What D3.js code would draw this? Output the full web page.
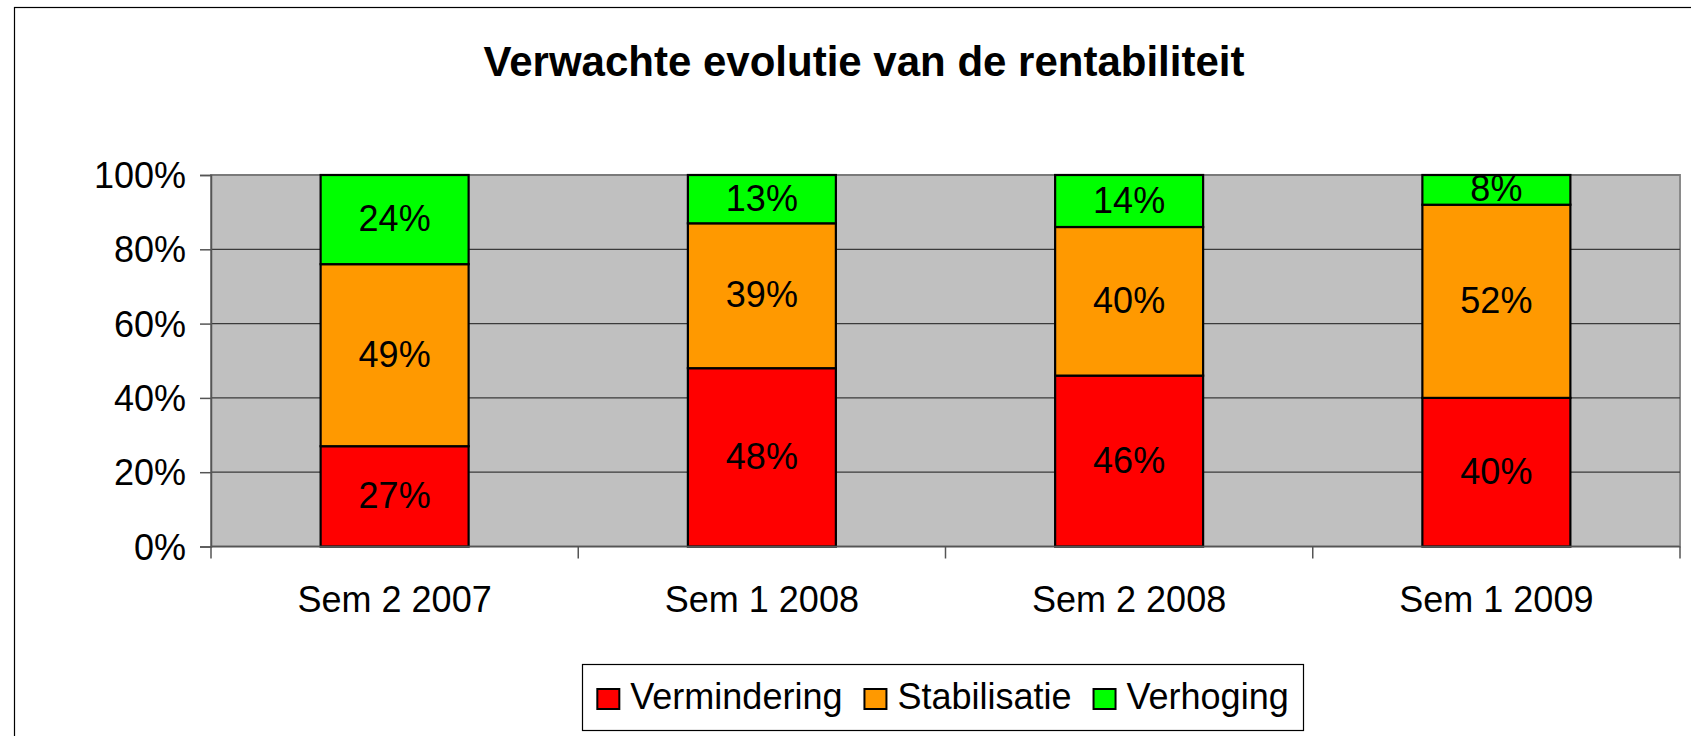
<!DOCTYPE html>
<html>
<head>
<meta charset="utf-8">
<script src="https://cdn.jsdelivr.net/npm/d3@7"></script>
<style>
  html, body { margin: 0; padding: 0; background: #ffffff; }
  svg { display: block; font-family: "Liberation Sans", Arial, sans-serif; }
</style>
</head>
<body>
<svg id="chart" width="1691" height="736"></svg>
<script>
// ---- data ----
const title = "Verwachte evolutie van de rentabiliteit";
const categories = ["Sem 2 2007", "Sem 1 2008", "Sem 2 2008", "Sem 1 2009"];
const seriesNames = ["Vermindering", "Stabilisatie", "Verhoging"];
const vermindering = [27, 48, 46, 40];
const stabilisatie = [49, 39, 40, 52];
const verhoging = [24, 13, 14, 8];
const yTicks = [0, 20, 40, 60, 80, 100];
const colors = ["#FF0000", "#FF9900", "#00FF00"];

// ---- layout ----
const W = 1691, H = 736;
const plot = { left: 211, right: 1680, top: 175, bottom: 546.5 };
const svg = d3.select("#chart");

// outer frame
svg.append("rect")
  .attr("x", 14.5).attr("y", 7.5)
  .attr("width", W + 20).attr("height", H + 20)
  .attr("fill", "#fff").attr("stroke", "#000").attr("stroke-width", 1.2);

// title
svg.append("text")
  .attr("x", 864).attr("y", 76)
  .attr("text-anchor", "middle")
  .attr("font-weight", "bold")
  .attr("font-size", 42)
  .text(title);

const x = d3.scaleBand().domain(categories).range([plot.left, plot.right]).padding(0);
const y = d3.scaleLinear().domain([0, 100]).range([plot.bottom, plot.top]);
const barW = x.bandwidth() * 0.403;

// plot background
svg.append("rect")
  .attr("x", plot.left).attr("y", plot.top)
  .attr("width", plot.right - plot.left).attr("height", plot.bottom - plot.top)
  .attr("fill", "#C0C0C0")
  .attr("stroke", "#8a8a8a").attr("stroke-width", 2);

// gridlines
svg.append("g").selectAll("line").data(yTicks.filter(d => d > 0)).join("line")
  .attr("x1", plot.left).attr("x2", plot.right)
  .attr("y1", d => y(d)).attr("y2", d => y(d))
  .attr("stroke", d => d === 100 ? "#7a7a7a" : "#3a3a3a")
  .attr("stroke-width", d => d === 100 ? 2 : 1.3);

// stacked data
const table = categories.map((c, i) => ({
  cat: c, Vermindering: vermindering[i], Stabilisatie: stabilisatie[i], Verhoging: verhoging[i]
}));
const stacked = d3.stack().keys(seriesNames)(table);

const layers = svg.append("g").selectAll("g").data(stacked).join("g")
  .attr("fill", (d, i) => colors[i]);

layers.selectAll("rect").data(d => d).join("rect")
  .attr("x", d => x(d.data.cat) + (x.bandwidth() - barW) / 2)
  .attr("y", d => y(d[1]))
  .attr("width", barW)
  .attr("height", d => y(d[0]) - y(d[1]))
  .attr("stroke", "#000").attr("stroke-width", 2.2);

layers.selectAll("text").data(d => d).join("text")
  .attr("x", d => x(d.data.cat) + x.bandwidth() / 2)
  .attr("y", d => (y(d[0]) + y(d[1])) / 2 + 11.5)
  .attr("text-anchor", "middle")
  .attr("font-size", 36)
  .attr("fill", "#000")
  .text(d => (d[1] - d[0]) + "%");

// y axis
const yAxis = svg.append("g")
  .attr("transform", `translate(${plot.left},0)`)
  .call(d3.axisLeft(y).tickValues(yTicks).tickSize(11).tickPadding(0).tickFormat(d => d + "%"));
yAxis.select(".domain").attr("stroke", "#555").attr("stroke-width", 1.5);
yAxis.selectAll(".tick line").attr("stroke", "#555").attr("stroke-width", 1.5);
yAxis.selectAll(".tick text")
  .attr("x", -25)
  .attr("dy", "0.35em")
  .attr("font-size", 36)
  .attr("font-family", "Liberation Sans, Arial, sans-serif")
  .attr("fill", "#000");

// x axis
const boundaries = categories.map(c => x(c)).concat([plot.right]);
svg.append("line")
  .attr("x1", plot.left).attr("x2", plot.right)
  .attr("y1", plot.bottom).attr("y2", plot.bottom)
  .attr("stroke", "#555").attr("stroke-width", 1.5);
svg.append("g").selectAll("line").data(boundaries).join("line")
  .attr("x1", d => d).attr("x2", d => d)
  .attr("y1", plot.bottom).attr("y2", plot.bottom + 12)
  .attr("stroke", "#555").attr("stroke-width", 1.5);
svg.append("g").selectAll("text").data(categories).join("text")
  .attr("x", d => x(d) + x.bandwidth() / 2)
  .attr("y", 612)
  .attr("text-anchor", "middle")
  .attr("font-size", 36)
  .text(d => d);

// legend
const legBox = { x: 582.5, y: 664.5, w: 721, h: 66 };
svg.append("rect")
  .attr("x", legBox.x).attr("y", legBox.y)
  .attr("width", legBox.w).attr("height", legBox.h)
  .attr("fill", "#fff").attr("stroke", "#000").attr("stroke-width", 1.2);

const leg = svg.append("g");
const items = leg.selectAll("g").data(seriesNames).join("g");
items.append("rect")
  .attr("width", 22).attr("height", 20)
  .attr("y", 689)
  .attr("fill", (d, i) => colors[i])
  .attr("stroke", "#000").attr("stroke-width", 2);
items.append("text")
  .attr("y", 709)
  .attr("font-size", 36)
  .text(d => d);
const widths = [];
items.select("text").each(function () { widths.push(this.getComputedTextLength()); });
const swatchGap = 33, itemGap = 22;
const total = d3.sum(widths) + seriesNames.length * swatchGap + (seriesNames.length - 1) * itemGap;
let cx = legBox.x + (legBox.w - total) / 2;
items.each(function (d, i) {
  const g = d3.select(this);
  g.select("rect").attr("x", cx);
  g.select("text").attr("x", cx + swatchGap);
  cx += swatchGap + widths[i] + itemGap;
});
</script>
</body>
</html>
